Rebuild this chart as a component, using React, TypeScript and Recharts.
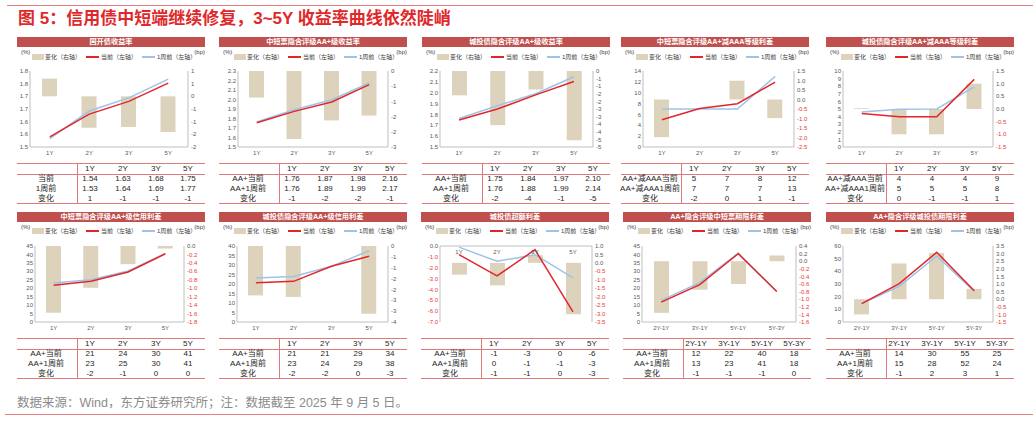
import React from 'react';
import { ComposedChart, Bar, Line, XAxis, YAxis } from 'recharts';

const tenors = ['1Y', '2Y', '3Y', '5Y'];
const termPairs = ['2Y-1Y', '3Y-1Y', '5Y-1Y', '5Y-3Y'];

// 国开债收益率
const cdbNow = [1.54, 1.63, 1.68, 1.752];
const cdbPrev = [1.533, 1.642, 1.694, 1.768];
const cdbChg = [0.7, -1.24, -1.21, -1.41];
const cdbLeftTicks = [1.5, 1.55, 1.6, 1.65, 1.7, 1.75, 1.8];
const cdbLeftLabels = ['1.5', '1.6', '1.6', '1.7', '1.7', '1.8', '1.8'];
const cdbRightTicks = [-2, -1.5, -1, -0.5, 0, 0.5, 1];
const cdbRightLabels = ['-2', '-2', '-1', '-1', '0', '1', '1'];
const cdbTable = [
  ['当前', '1.54', '1.63', '1.68', '1.75'],
  ['1周前', '1.53', '1.64', '1.69', '1.77'],
  ['变化', '1', '-1', '-1', '-1'],
];

// 中短票隐含评级AA+级收益率
const mtnNow = [1.756, 1.875, 1.974, 2.156];
const mtnPrev = [1.763, 1.893, 1.998, 2.174];
const mtnChg = [-1.05, -2.68, -1.95, -1.76];
const mtnLeftTicks = [1.5, 1.6, 1.7, 1.8, 1.9, 2.0, 2.1, 2.2, 2.3];
const mtnLeftLabels = ['1.5', '1.6', '1.7', '1.8', '1.9', '2.0', '2.1', '2.2', '2.3'];
const mtnRightTicks = [-3, -2.4, -1.8, -1.2, -0.6, 0];
const mtnRightLabels = ['-3', '-2', '-2', '-1', '-1', '0'];
const mtnTable = [
  ['AA+当前', '1.76', '1.87', '1.98', '2.16'],
  ['AA+1周前', '1.76', '1.89', '1.99', '2.17'],
  ['变化', '-1', '-2', '-2', '-1'],
];

// 城投债隐含评级AA+级收益率
const lgfvNow = [1.748, 1.85, 1.98, 2.104];
const lgfvPrev = [1.763, 1.88, 1.99, 2.147];
const lgfvChg = [-1.6, -3.56, -1.22, -4.56];
const lgfvLeftTicks = [1.5, 1.6, 1.7, 1.8, 1.9, 2.0, 2.1, 2.2];
const lgfvLeftLabels = ['1.5', '1.6', '1.7', '1.8', '1.9', '2.0', '2.1', '2.2'];
const lgfvRightTicks = [-5, -4.5, -4, -3.5, -3, -2.5, -2, -1.5, -1, -0.5, 0];
const lgfvRightLabels = ['-5', '-5', '-4', '-4', '-3', '-3', '-2', '-2', '-1', '-1', '0'];
const lgfvTable = [
  ['AA+当前', '1.75', '1.84', '1.97', '2.10'],
  ['AA+1周前', '1.76', '1.88', '1.99', '2.14'],
  ['变化', '-2', '-4', '-1', '-5'],
];

// 中短票隐含评级AA+减AAA等级利差
const mtnGradeNow = [5.03, 7.1, 7.97, 11.96];
const mtnGradePrev = [7, 7, 7, 13];
const mtnGradeChg = [-1.98, 0, 0.99, -0.98];
const mtnGradeLeftTicks = [0, 2, 4, 6, 8, 10, 12, 14];
const mtnGradeLeftLabels = ['0', '2', '4', '6', '8', '10', '12', '14'];
const mtnGradeRightTicks = [-2.5, -2, -1.5, -1, -0.5, 0, 0.5, 1, 1.5];
const mtnGradeRightLabels = ['-2.5', '-2.0', '-1.5', '-1.0', '-0.5', '0.0', '0.5', '1.0', '1.5'];
const mtnGradeTable = [
  ['AA+减AAA当前', '5', '7', '8', '12'],
  ['AA+减AAA1周前', '7', '7', '7', '13'],
  ['变化', '-2', '0', '1', '-1'],
];

// 城投债隐含评级AA+减AAA等级利差
const lgfvGradeNow = [4.4, 3.98, 3.98, 8.9];
const lgfvGradePrev = [4.6, 4.96, 5.0, 7.9];
const lgfvGradeChg = [0.03, -1, -1, 1];
const lgfvGradeLeftTicks = [0, 1, 2, 3, 4, 5, 6, 7, 8, 9, 10];
const lgfvGradeLeftLabels = ['0', '1', '2', '3', '4', '5', '6', '7', '8', '9', '10'];
const lgfvGradeRightTicks = [-1.5, -1, -0.5, 0, 0.5, 1, 1.5];
const lgfvGradeRightLabels = ['-1.5', '-1.0', '-0.5', '0.0', '0.5', '1.0', '1.5'];
const lgfvGradeTable = [
  ['AA+减AAA当前', '4', '4', '4', '9'],
  ['AA+减AAA1周前', '5', '5', '5', '8'],
  ['变化', '0', '-1', '-1', '1'],
];

// 中短票隐含评级AA+级信用利差
const mtnCreditNow = [21.7, 24.1, 29.6, 40.4];
const mtnCreditPrev = [23.1, 25.0, 30.2, 40.6];
const mtnCreditChg = [-1.58, -0.99, -0.43, -0.06];
const mtnCreditLeftTicks = [0, 5, 10, 15, 20, 25, 30, 35, 40, 45];
const mtnCreditLeftLabels = ['0', '5', '10', '15', '20', '25', '30', '35', '40', '45'];
const mtnCreditRightTicks = [-1.8, -1.6, -1.4, -1.2, -1, -0.8, -0.6, -0.4, -0.2, 0];
const mtnCreditRightLabels = ['-1.8', '-1.6', '-1.4', '-1.2', '-1.0', '-0.8', '-0.6', '-0.4', '-0.2', '0.0'];
const mtnCreditTable = [
  ['AA+当前', '21', '24', '30', '41'],
  ['AA+1周前', '23', '25', '30', '41'],
  ['变化', '-2', '-1', '0', '0'],
];

// 城投债隐含评级AA+级信用利差
const lgfvCreditNow = [20.7, 21.4, 29.3, 34.6];
const lgfvCreditPrev = [23.2, 24.0, 29.3, 37.5];
const lgfvCreditChg = [-2.6, -2.68, 0, -3.56];
const lgfvCreditLeftTicks = [0, 5, 10, 15, 20, 25, 30, 35, 40];
const lgfvCreditLeftLabels = ['0', '5', '10', '15', '20', '25', '30', '35', '40'];
const lgfvCreditRightTicks = [-4, -3.4286, -2.8571, -2.2857, -1.7143, -1.1429, -0.5714, 0];
const lgfvCreditRightLabels = ['-4', '-3', '-3', '-2', '-2', '-1', '-1', '0'];
const lgfvCreditTable = [
  ['AA+当前', '21', '21', '29', '34'],
  ['AA+1周前', '23', '24', '29', '38'],
  ['变化', '-2', '-2', '0', '-3'],
];

// 城投债超额利差
const excessNow = [-0.8, -2.76, -0.34, -6.07];
const excessPrev = [-0.1, -1.41, -0.8, -2.94];
const excessChg = [-0.7, -1.33, 0.45, -3.04];
const excessLeftTicks = [-7, -6, -5, -4, -3, -2, -1, 0];
const excessLeftLabels = ['-7.0', '-6.0', '-5.0', '-4.0', '-3.0', '-2.0', '-1.0', '0.0'];
const excessRightTicks = [-3.5, -3, -2.5, -2, -1.5, -1, -0.5, 0, 0.5, 1];
const excessRightLabels = ['-3.5', '-3.0', '-2.5', '-2.0', '-1.5', '-1.0', '-0.5', '0.0', '0.5', '1.0'];
const excessTable = [
  ['AA+当前', '-1', '-3', '0', '-6'],
  ['AA+1周前', '0', '-1', '-1', '-3'],
  ['变化', '-1', '-1', '0', '-3'],
];

// AA+隐含评级中短票期限利差
const mtnTermNow = [11.8, 22.1, 40.4, 18.1];
const mtnTermPrev = [12.8, 23.3, 40.8, 18.1];
const mtnTermChg = [-1.36, -0.75, -0.6, 0.15];
const mtnTermLeftTicks = [0, 5, 10, 15, 20, 25, 30, 35, 40, 45];
const mtnTermLeftLabels = ['0', '5', '10', '15', '20', '25', '30', '35', '40', '45'];
const mtnTermRightTicks = [-1.6, -1.4, -1.2, -1, -0.8, -0.6, -0.4, -0.2, 0, 0.2, 0.4];
const mtnTermRightLabels = ['-1.6', '-1.4', '-1.2', '-1.0', '-0.8', '-0.6', '-0.4', '-0.2', '0.0', '0.2', '0.4'];
const mtnTermTable = [
  ['AA+当前', '12', '22', '40', '18'],
  ['AA+1周前', '13', '23', '41', '18'],
  ['变化', '-1', '-1', '-1', '0'],
];

// AA+隐含评级城投债期限利差
const lgfvTermNow = [14.5, 30.3, 55.0, 24.7];
const lgfvTermPrev = [14.5, 28.2, 52.1, 24.2];
const lgfvTermChg = [-1.0, 2.35, 3.03, 0.68];
const lgfvTermLeftTicks = [0, 10, 20, 30, 40, 50, 60];
const lgfvTermLeftLabels = ['0', '10', '20', '30', '40', '50', '60'];
const lgfvTermRightTicks = [-1.5, -1, -0.5, 0, 0.5, 1, 1.5, 2, 2.5, 3, 3.5];
const lgfvTermRightLabels = ['-1.5', '-1.0', '-0.5', '0.0', '0.5', '1.0', '1.5', '2.0', '2.5', '3.0', '3.5'];
const lgfvTermTable = [
  ['AA+当前', '14', '30', '55', '25'],
  ['AA+1周前', '15', '28', '52', '24'],
  ['变化', '-1', '2', '3', '1'],
];

const FONT = '"Liberation Sans", Arial, "Noto Sans CJK SC", sans-serif';
const RED = '#e3262a';
const BLUE = '#9dc3e6';
const TAN = '#ddd3bd';
const BAR_RED = '#c0504d';
const RULE = '#e07a7a';
const AXIS = '#bfbfbf';
const TXT = '#595959';
const PW = 188;

type Panel = {
  title: string;
  x: number;
  row: 0 | 1;
  cats: string[];
  now: number[];
  prev: number[];
  chg: number[];
  lt: number[];
  ll: string[];
  rt: number[];
  rl: string[];
  redL?: boolean;
  redR?: boolean;
  axL: number;
  axR: number;
  table: string[][];
  topAxis?: boolean;
};

const ROWS = [
  { bar: 37, unit: 52, legend: 57, chart: 66, table: 163 },
  { bar: 212, unit: 227, legend: 231, chart: 241, table: 338 },
];

const panels: Panel[] = [
  { title: '国开债收益率', x: 17, row: 0, cats: tenors, now: cdbNow, prev: cdbPrev, chg: cdbChg,
    lt: cdbLeftTicks, ll: cdbLeftLabels, rt: cdbRightTicks, rl: cdbRightLabels, axL: 13, axR: 171, table: cdbTable },
  { title: '中短票隐含评级AA+级收益率', x: 219, row: 0, cats: tenors, now: mtnNow, prev: mtnPrev, chg: mtnChg,
    lt: mtnLeftTicks, ll: mtnLeftLabels, rt: mtnRightTicks, rl: mtnRightLabels, axL: 19, axR: 169, table: mtnTable },
  { title: '城投债隐含评级AA+级收益率', x: 422, row: 0, cats: tenors, now: lgfvNow, prev: lgfvPrev, chg: lgfvChg,
    lt: lgfvLeftTicks, ll: lgfvLeftLabels, rt: lgfvRightTicks, rl: lgfvRightLabels, axL: 18, axR: 171, table: lgfvTable },
  { title: '中短票隐含评级AA+减AAA等级利差', x: 621, row: 0, cats: tenors, now: mtnGradeNow, prev: mtnGradePrev, chg: mtnGradeChg,
    lt: mtnGradeLeftTicks, ll: mtnGradeLeftLabels, rt: mtnGradeRightTicks, rl: mtnGradeRightLabels, redR: true, axL: 22, axR: 173, table: mtnGradeTable },
  { title: '城投债隐含评级AA+减AAA等级利差', x: 826, row: 0, cats: tenors, now: lgfvGradeNow, prev: lgfvGradePrev, chg: lgfvGradeChg,
    lt: lgfvGradeLeftTicks, ll: lgfvGradeLeftLabels, rt: lgfvGradeRightTicks, rl: lgfvGradeRightLabels, redR: true, axL: 17, axR: 167, table: lgfvGradeTable },
  { title: '中短票隐含评级AA+级信用利差', x: 17, row: 1, cats: tenors, now: mtnCreditNow, prev: mtnCreditPrev, chg: mtnCreditChg,
    lt: mtnCreditLeftTicks, ll: mtnCreditLeftLabels, rt: mtnCreditRightTicks, rl: mtnCreditRightLabels, redR: true, axL: 18, axR: 167, table: mtnCreditTable },
  { title: '城投债隐含评级AA+级信用利差', x: 219, row: 1, cats: tenors, now: lgfvCreditNow, prev: lgfvCreditPrev, chg: lgfvCreditChg,
    lt: lgfvCreditLeftTicks, ll: lgfvCreditLeftLabels, rt: lgfvCreditRightTicks, rl: lgfvCreditRightLabels, axL: 18, axR: 169, table: lgfvCreditTable },
  { title: '城投债超额利差', x: 421, row: 1, cats: tenors, now: excessNow, prev: excessPrev, chg: excessChg,
    lt: excessLeftTicks, ll: excessLeftLabels, rt: excessRightTicks, rl: excessRightLabels, redL: true, redR: true, axL: 19, axR: 171, table: excessTable, topAxis: true },
  { title: 'AA+隐含评级中短票期限利差', x: 623, row: 1, cats: termPairs, now: mtnTermNow, prev: mtnTermPrev, chg: mtnTermChg,
    lt: mtnTermLeftTicks, ll: mtnTermLeftLabels, rt: mtnTermRightTicks, rl: mtnTermRightLabels, redR: true, axL: 19, axR: 173, table: mtnTermTable },
  { title: 'AA+隐含评级城投债期限利差', x: 826, row: 1, cats: termPairs, now: lgfvTermNow, prev: lgfvTermPrev, chg: lgfvTermChg,
    lt: lgfvTermLeftTicks, ll: lgfvTermLeftLabels, rt: lgfvTermRightTicks, rl: lgfvTermRightLabels, redR: true, axL: 17, axR: 167, table: lgfvTermTable },
];

const mkTick = (ticks: number[], labels: string[], redNeg: boolean) => (props: any) => {
  const { x, y, payload, textAnchor } = props;
  const i = ticks.indexOf(payload.value);
  const lab = i >= 0 ? labels[i] : String(payload.value);
  const fill = redNeg && lab.startsWith('-') ? '#e8383b' : TXT;
  return (
    <text x={x} y={y} dy="0.35em" textAnchor={textAnchor} fontSize={6} fill={fill} fontFamily={FONT}>
      {lab}
    </text>
  );
};

const abs = (s: React.CSSProperties): React.CSSProperties => ({ position: 'absolute', ...s });

const Legend = ({ top }: { top: number }) => (
  <>
    <div style={abs({ left: 15, top: top - 3, width: 12, height: 6, background: TAN })} />
    <div style={abs({ left: 28, top: top - 4, fontSize: 6, lineHeight: '8px', color: '#404040', whiteSpace: 'nowrap' })}>变化（右轴）</div>
    <div style={abs({ left: 69, top: top - 0.75, width: 13, height: 1.5, background: RED })} />
    <div style={abs({ left: 84, top: top - 4, fontSize: 6, lineHeight: '8px', color: '#404040', whiteSpace: 'nowrap' })}>当前（左轴）</div>
    <div style={abs({ left: 125, top: top - 0.75, width: 13, height: 1.5, background: BLUE })} />
    <div style={abs({ left: 140, top: top - 4, fontSize: 6, lineHeight: '8px', color: '#404040', whiteSpace: 'nowrap' })}>1周前（左轴）</div>
  </>
);

const colCenters = [73, 106, 139, 171];
const rowCenters = [6, 16.3, 26, 35.5];

const DataTable = ({ p, top }: { p: Panel; top: number }) => {
  const cell = (text: string, cx: number, cy: number, w: number, key: string) => (
    <div key={key} style={abs({ left: cx - w / 2, top: top + cy - 5, width: w, height: 10, lineHeight: '10px',
      textAlign: 'center', fontSize: 8, color: '#262626', whiteSpace: 'nowrap' })}>{text}</div>
  );
  return (
    <>
      <div style={abs({ left: 0, top, width: PW, height: 1, background: RULE })} />
      <div style={abs({ left: 0, top: top + 10.5, width: PW, height: 1, background: RULE })} />
      <div style={abs({ left: 0, top: top + 40, width: PW, height: 1, background: RULE })} />
      <div style={abs({ left: 60, top, width: 1, height: 40, background: RULE })} />
      {p.cats.map((c, i) => cell(c, colCenters[i], rowCenters[0], 32, 'h' + i))}
      {p.table.map((r, ri) =>
        r.map((v, ci) =>
          ci === 0
            ? cell(v, 29, rowCenters[ri + 1], 60, `r${ri}c${ci}`)
            : cell(v, colCenters[ci - 1], rowCenters[ri + 1], 32, `r${ri}c${ci}`)
        )
      )}
    </>
  );
};

const PanelView = ({ p }: { p: Panel }) => {
  const L = ROWS[p.row];
  const data = p.cats.map((c, i) => ({ cat: c, now: p.now[i], prev: p.prev[i], chg: p.chg[i] }));
  return (
    <div style={abs({ left: p.x, top: 0, width: PW, height: 427 })}>
      <div style={abs({ left: 0, top: L.bar, width: PW, height: 9.5, background: BAR_RED, color: '#fff',
        fontSize: 7.2, fontWeight: 'bold', lineHeight: '9.5px', textAlign: 'center', whiteSpace: 'nowrap' })}>{p.title}</div>
      <div style={abs({ left: 4, top: L.unit - 4, fontSize: 6, lineHeight: '8px', color: '#404040' })}>(%)</div>
      <div style={abs({ left: PW - 20, top: L.unit - 4, width: 20, textAlign: 'right', fontSize: 6, lineHeight: '8px', color: '#404040' })}>(bp)</div>
      <Legend top={L.legend} />
      <div style={abs({ left: 0, top: L.chart })}>
        <ComposedChart width={PW} height={93} data={data} barSize={15}
          margin={{ top: 5, right: 0, left: 0, bottom: p.topAxis ? 12 : 0 }}>
          <XAxis dataKey="cat" orientation={p.topAxis ? 'top' : 'bottom'} mirror={!!p.topAxis} height={12}
            tickLine={false} tickSize={0} tickMargin={p.topAxis ? 4 : 4} interval={0}
            axisLine={{ stroke: AXIS }} tick={{ fontSize: 6, fill: TXT }} />
          <YAxis yAxisId="l" orientation="left" width={p.axL} domain={[p.lt[0], p.lt[p.lt.length - 1]]}
            ticks={p.lt} interval={0} tickLine={false} tickSize={0} tickMargin={2}
            axisLine={{ stroke: AXIS }} tick={mkTick(p.lt, p.ll, !!p.redL)} />
          <YAxis yAxisId="r" orientation="right" width={PW - p.axR} domain={[p.rt[0], p.rt[p.rt.length - 1]]}
            ticks={p.rt} interval={0} tickLine={false} tickSize={0} tickMargin={3}
            axisLine={{ stroke: AXIS }} tick={mkTick(p.rt, p.rl, !!p.redR)} />
          <Bar yAxisId="r" dataKey="chg" fill={TAN} isAnimationActive={false} />
          <Line yAxisId="l" type="linear" dataKey="prev" stroke={BLUE} strokeWidth={1.5} dot={false} isAnimationActive={false} />
          <Line yAxisId="l" type="linear" dataKey="now" stroke={RED} strokeWidth={1.5} dot={false} isAnimationActive={false} />
        </ComposedChart>
      </div>
      <DataTable p={p} top={L.table} />
    </div>
  );
};

export default function App() {
  return (
    <div style={abs({ left: 0, top: 0, width: 1033, height: 427, background: '#fff', overflow: 'hidden', fontFamily: FONT })}>
      <div style={abs({ left: 7, top: 4.5, width: 1026, height: 1.5, background: '#ea7f7f' })} />
      <div style={abs({ left: 18, top: 9, fontSize: 17, fontWeight: 'bold', lineHeight: '20px', color: '#e0282b', whiteSpace: 'nowrap' })}>
        图 5：信用债中短端继续修复，3~5Y 收益率曲线依然陡峭
      </div>
      {panels.map((p) => (
        <PanelView key={p.title} p={p} />
      ))}
      <div style={abs({ left: 17, top: 396, fontSize: 12.5, lineHeight: '14px', color: '#8c8c8c', whiteSpace: 'nowrap' })}>
        数据来源：Wind，东方证券研究所；注：数据截至 2025 年 9 月 5 日。
      </div>
      <div style={abs({ left: 5, top: 413.5, width: 1028, height: 1.5, background: '#ea7f7f' })} />
    </div>
  );
}
